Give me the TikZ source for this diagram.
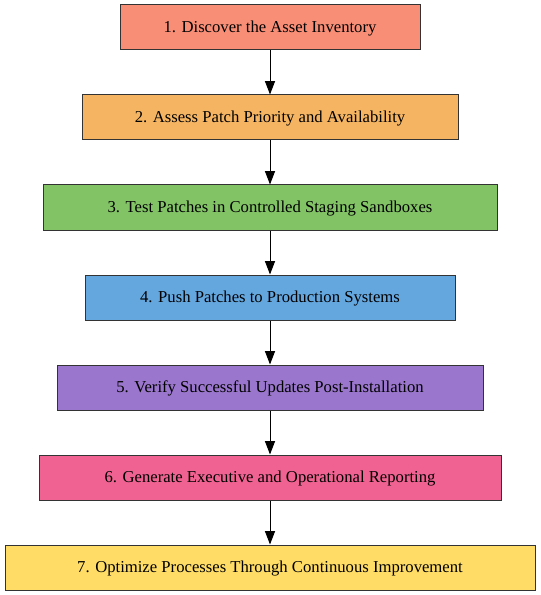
\documentclass[tikz,border=0pt]{standalone}
\usepackage{fontspec}
\setmainfont{Liberation Serif}
\usepackage[HTML]{xcolor}
\usetikzlibrary{positioning, arrows, arrows.meta}

\definecolor{stepOne}{HTML}{F98E76}
\definecolor{stepTwo}{HTML}{F4B462}
\definecolor{stepThree}{HTML}{82C366}
\definecolor{stepFour}{HTML}{64A7DF}
\definecolor{stepFive}{HTML}{9A76CC}
\definecolor{stepSix}{HTML}{F06291}
\definecolor{stepSeven}{HTML}{FEDC66}
\definecolor{edgeGray}{HTML}{333333}

\begin{document}
\begin{tikzpicture}[
    x=0.75pt, y=-0.75pt, % pixel units of the reference
    every node/.style={font=\rmfamily\fontsize{12.5}{14}\selectfont}, % Consistent font size for nodes
    stepbox/.style={draw=edgeGray, line width=0.75pt, minimum height=33.75pt, inner sep=0pt,
        text height=10pt, text depth=2pt},
    flow/.style={-{Triangle[length=10pt, width=7.5pt]}, line width=0.75pt}
]
    \useasboundingbox (0, 0) rectangle (541, 595);

    % Define the nodes using (x, y) coordinates, one column down the middle
    \node[stepbox, fill=stepOne, minimum width=225pt] (Discover) at (270, 27)
        {1. Discover the Asset Inventory};
    \node[stepbox, fill=stepTwo, minimum width=282pt] (Assess) at (270, 117.5)
        {2. Assess Patch Priority and Availability};
    \node[stepbox, fill=stepThree, minimum width=340.5pt] (Test) at (270, 207.5)
        {3. Test Patches in Controlled Staging Sandboxes};
    \node[stepbox, fill=stepFour, minimum width=277.5pt] (Push) at (270, 297.5)
        {4. Push Patches to Production Systems};
    \node[stepbox, fill=stepFive, minimum width=319.5pt] (Verify) at (270, 387.5)
        {5. Verify Successful Updates Post-Installation};
    \node[stepbox, fill=stepSix, minimum width=346.5pt] (Report) at (270, 477.5)
        {6. Generate Executive and Operational Reporting};
    \node[stepbox, fill=stepSeven, minimum width=397.5pt] (Optimize) at (270, 567.5)
        {7. Optimize Processes Through Continuous Improvement};

    % Arrows between consecutive steps
    \draw[flow] (Discover) -- (Assess);
    \draw[flow] (Assess) -- (Test);
    \draw[flow] (Test) -- (Push);
    \draw[flow] (Push) -- (Verify);
    \draw[flow] (Verify) -- (Report);
    \draw[flow] (Report) -- (Optimize);

\end{tikzpicture}
\end{document}
